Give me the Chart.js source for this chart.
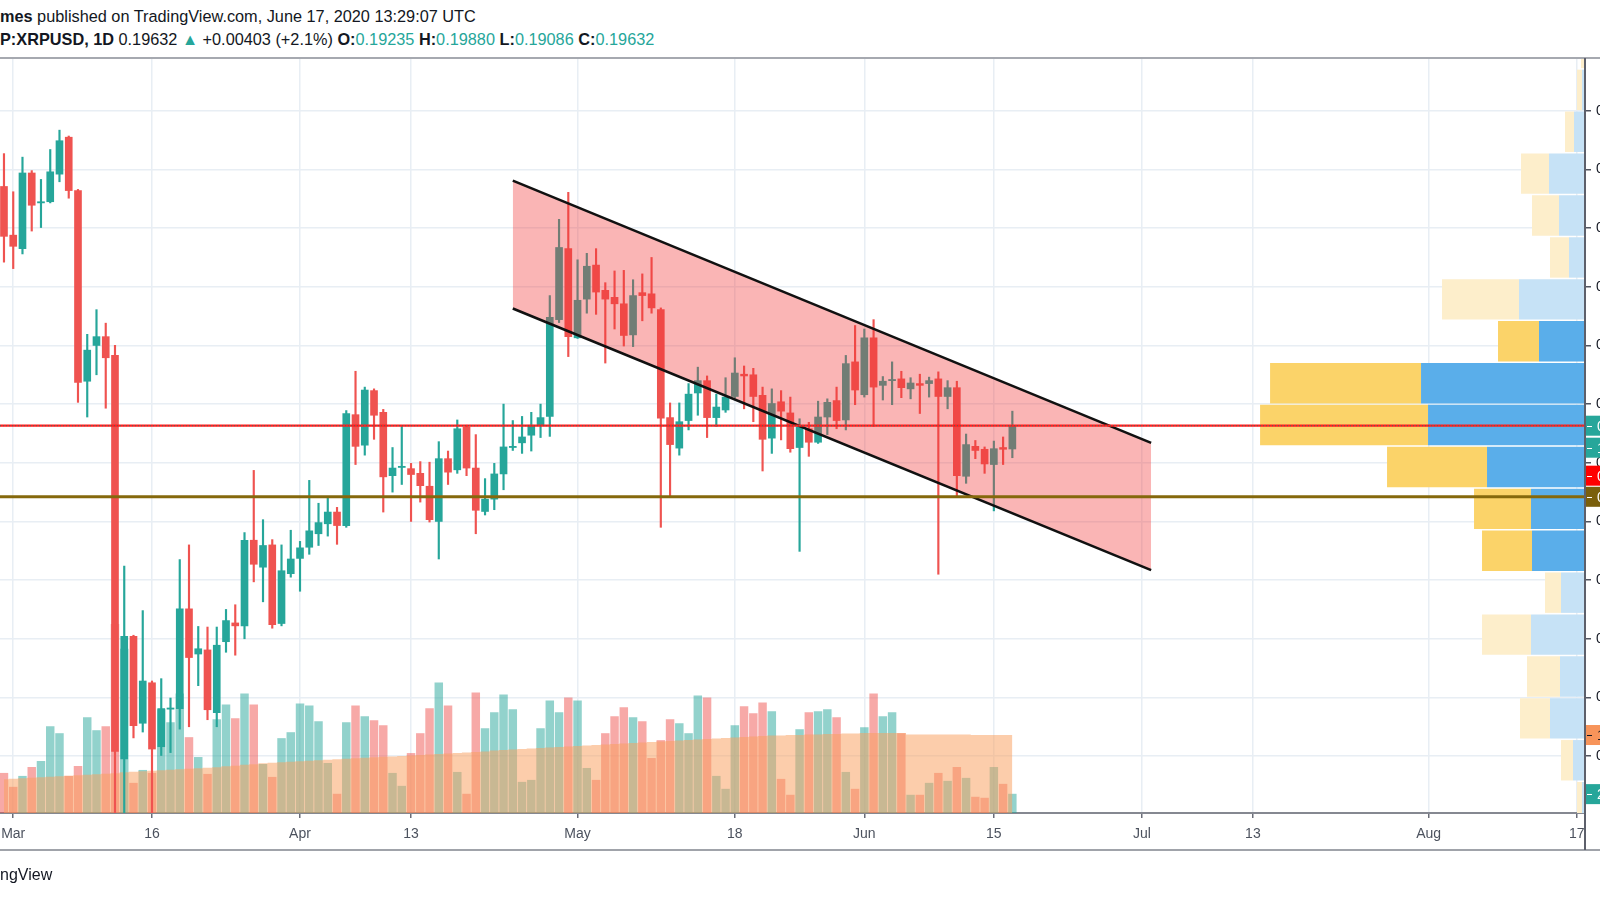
<!DOCTYPE html>
<html>
<head>
<meta charset="utf-8">
<script src="https://cdn.jsdelivr.net/npm/chart.js@4.4.1/dist/chart.umd.min.js"></script>
<style>
  html, body { margin: 0; padding: 0; width: 1600px; height: 900px; overflow: hidden; background: #fff; }
  body { position: relative; font-family: "Liberation Sans", Arial, sans-serif; color: #131722; }
  .hdr { position: absolute; left: 0; font-size: 16.3px; white-space: nowrap; }
  #hdr1 { top: 7px; }
  #hdr2 { top: 30px; }
  .g { color: #26a69a; }
  canvas { position: absolute; left: 0; top: 0; }
  #topline { position: absolute; left: 0; top: 57px; width: 1600px; height: 2px; background: #a6a9b0; }
  #botline { position: absolute; left: 0; top: 849px; width: 1600px; height: 2px; background: #a0a3aa; }
  #vline { position: absolute; left: 1584px; top: 58px; width: 2px; height: 792px; background: #5d606b; }
  #foot { position: absolute; left: 0; top: 866px; font-size: 16px; }
</style>
</head>
<body>
<div class="hdr" id="hdr1"><b>mes</b> published on TradingView.com, June 17, 2020 13:29:07 UTC</div>
<div class="hdr" id="hdr2"><b>P:XRPUSD, 1D</b> 0.19632 <span class="g">▲</span> +0.00403 (+2.1%) <b>O:</b><span class="g">0.19235</span> <b>H:</b><span class="g">0.19880</span> <b>L:</b><span class="g">0.19086</span> <b>C:</b><span class="g">0.19632</span></div>
<canvas id="main" width="1700" height="900"></canvas>
<canvas id="prof" width="1585" height="813"></canvas>
<div id="topline"></div>
<div id="botline"></div>
<div id="vline"></div>
<div id="foot">ngView</div>

<script>
// --- DADOS ---

// primeiro candle visível; os seguintes são diários
const firstDate = '2020-02-29';

const opens = [
  0.2371, 0.2288, 0.2265, 0.2394, 0.2343, 0.2345, 0.2392, 0.2455, 0.2364, 0.2039,
  0.2100, 0.2115, 0.2083, 0.1395, 0.1604, 0.1456, 0.1525, 0.1416, 0.1480, 0.1481,
  0.1651, 0.1574, 0.1581, 0.1474, 0.1595, 0.1627, 0.1622, 0.1768, 0.1722, 0.1760,
  0.1626, 0.1711, 0.1737, 0.1756, 0.1779, 0.1796, 0.1816, 0.1793, 0.1982, 0.1930,
  0.2023, 0.1986, 0.1878, 0.1892, 0.1890, 0.1882, 0.1860, 0.1800, 0.1907, 0.1888,
  0.1961, 0.1891, 0.1817, 0.1838, 0.1881, 0.1926, 0.1934, 0.1947, 0.1965, 0.1979,
  0.2144, 0.2265, 0.2113, 0.2179, 0.2237, 0.2194, 0.2182, 0.2171, 0.2118, 0.2190,
  0.2188, 0.2161, 0.1977, 0.1925, 0.1972, 0.2019, 0.2040, 0.1977, 0.1990, 0.2013,
  0.2051, 0.2050, 0.2015, 0.1942, 0.2004, 0.1985, 0.1926, 0.1958, 0.1935, 0.1978,
  0.2006, 0.1973, 0.2072, 0.2016, 0.2113, 0.2032, 0.2040, 0.2043, 0.2026, 0.2035,
  0.2035, 0.2043, 0.2013, 0.2028, 0.1877, 0.1928, 0.1923, 0.1897, 0.1926, 0.19235
];
const highs = [
  0.2427, 0.2362, 0.2421, 0.2398, 0.2383, 0.2434, 0.2467, 0.2457, 0.2366, 0.2119,
  0.2161, 0.2138, 0.2100, 0.1724, 0.1606, 0.1648, 0.1528, 0.1532, 0.1499, 0.1735,
  0.1760, 0.1621, 0.1620, 0.1620, 0.1650, 0.1658, 0.1781, 0.1887, 0.1803, 0.1769,
  0.1760, 0.1785, 0.1766, 0.1870, 0.1831, 0.1841, 0.1824, 0.1989, 0.2056, 0.2029,
  0.2026, 0.1991, 0.1926, 0.1962, 0.1899, 0.1902, 0.1901, 0.1936, 0.1920, 0.1973,
  0.1964, 0.1948, 0.1873, 0.1899, 0.2000, 0.1972, 0.1979, 0.1986, 0.2000, 0.2185,
  0.2315, 0.2361, 0.2246, 0.2257, 0.2265, 0.2207, 0.2227, 0.2228, 0.2212, 0.2222,
  0.2250, 0.2164, 0.2002, 0.2002, 0.2035, 0.2063, 0.2048, 0.2017, 0.2045, 0.2079,
  0.2065, 0.2061, 0.2029, 0.2026, 0.2023, 0.2012, 0.1975, 0.1969, 0.2005, 0.2009,
  0.2029, 0.2083, 0.2134, 0.2128, 0.2144, 0.2047, 0.2072, 0.2056, 0.2045, 0.2051,
  0.2046, 0.2055, 0.2040, 0.2039, 0.1949, 0.1938, 0.1927, 0.1937, 0.1944, 0.19880
];
const lows = [
  0.2242, 0.2231, 0.2256, 0.2295, 0.2301, 0.2343, 0.2379, 0.2351, 0.2003, 0.1978,
  0.2050, 0.1993, 0.1280, 0.1150, 0.1431, 0.1441, 0.1290, 0.1401, 0.1406, 0.1446,
  0.1450, 0.1520, 0.1462, 0.1450, 0.1577, 0.1572, 0.1600, 0.1697, 0.1663, 0.1618,
  0.1622, 0.1705, 0.1681, 0.1744, 0.1759, 0.1775, 0.1761, 0.1790, 0.1897, 0.1913,
  0.1940, 0.1816, 0.1850, 0.1863, 0.1800, 0.1833, 0.1799, 0.1736, 0.1863, 0.1882,
  0.1878, 0.1779, 0.1811, 0.1820, 0.1854, 0.1921, 0.1916, 0.1920, 0.1943, 0.1945,
  0.2139, 0.2081, 0.2112, 0.2155, 0.2153, 0.2070, 0.2128, 0.2099, 0.2098, 0.2142,
  0.2155, 0.1790, 0.1843, 0.1913, 0.1956, 0.1981, 0.1943, 0.1962, 0.1986, 0.2010,
  0.1992, 0.1970, 0.1886, 0.1916, 0.1939, 0.1918, 0.1749, 0.1911, 0.1933, 0.1948,
  0.1958, 0.1956, 0.1999, 0.2012, 0.1962, 0.2007, 0.1999, 0.2011, 0.2009, 0.1984,
  0.2012, 0.1710, 0.1992, 0.1841, 0.1865, 0.1907, 0.1882, 0.1818, 0.1897, 0.19086
];
const closes = [
  0.2286, 0.2269, 0.2394, 0.2339, 0.2345, 0.2396, 0.2449, 0.2364, 0.2037, 0.2092,
  0.2115, 0.2079, 0.1408, 0.1604, 0.1452, 0.1528, 0.1412, 0.1481, 0.1482, 0.1651,
  0.1568, 0.1583, 0.1479, 0.1589, 0.1631, 0.1622, 0.1768, 0.1727, 0.1759, 0.1624,
  0.1716, 0.1736, 0.1755, 0.1784, 0.1798, 0.1816, 0.1793, 0.1984, 0.1928, 0.2024,
  0.1981, 0.1876, 0.1891, 0.1894, 0.1880, 0.1861, 0.1803, 0.1907, 0.1884, 0.1958,
  0.1891, 0.1819, 0.1838, 0.1881, 0.1927, 0.1928, 0.1944, 0.1964, 0.1977, 0.2148,
  0.2267, 0.2115, 0.2177, 0.2235, 0.2191, 0.2179, 0.2171, 0.2117, 0.2185, 0.2185,
  0.2164, 0.1976, 0.1931, 0.1970, 0.2017, 0.2040, 0.1977, 0.1995, 0.2012, 0.2053,
  0.2048, 0.2013, 0.1940, 0.2001, 0.1988, 0.1924, 0.1961, 0.1935, 0.1978, 0.2003,
  0.1972, 0.2069, 0.2024, 0.2113, 0.2029, 0.2039, 0.2042, 0.2028, 0.2036, 0.2032,
  0.2040, 0.2013, 0.2028, 0.1878, 0.1931, 0.1921, 0.1898, 0.1924, 0.1923, 0.19632
];
// volume diário (milhões)
const volumes = [
   40,  26,  37,  46,  52,  87,  80,  37,  47,  96,
   83,  87, 190, 165,  30,  43,  40, 104,  91, 120,
   76,  56,  39,  94, 109,  95, 120, 109,  49,  36,
   75,  81, 110, 108,  92,  50,  19,  91, 108,  97,
   93,  88,  40,  27,  60,  80, 105, 131, 108,  41,
   19, 121,  85, 101, 119, 104,  31,  33,  85, 113,
  101, 116, 113,  45,  33,  80,  97, 106,  96,  92,
   55,  73,  94,  90,  80, 118, 116,  37,  24,  88,
  107, 100, 111, 102,  34,  18,  84, 101, 102, 104,
   96,  41,  24,  86, 120,  97, 101,  80,  18,  18,
   30,  40,  32,  46,  35,  16,  15,  46,  29,  19
];
// média móvel do volume (área laranja)
const volumeMA = [
  34, 34.5, 35, 35.5, 36, 36.5, 37, 37.5, 38, 38.5,
  39, 39.5, 40, 41, 41.5, 42, 42.5, 43, 43.5, 44,
  44.5, 45, 45.5, 46, 47, 47.5, 48.5, 49, 50, 50.5,
  51, 51.5, 52, 52.5, 53, 53.5, 54, 54.5, 55, 55.5,
  56, 56.5, 57, 57.5, 58, 58.5, 59, 59.5, 60, 60.5,
  61, 61.5, 62, 63, 63.5, 64, 64.5, 65, 65.5, 66,
  66.5, 67, 67.5, 68, 68.5, 69, 69.5, 70, 70.5, 71,
  71.5, 72, 72.5, 73, 73.5, 74, 74.5, 75, 75.5, 76,
  76.5, 77, 77.5, 78, 78, 78.5, 78.5, 79, 79, 79.5,
  79.5, 80, 80, 80.5, 80.5, 80.5, 80.5, 80.5, 79, 79,
  79, 79, 79, 79, 79, 78.5, 78.5, 78.5, 78.5, 78.5
];

// eixo de tempo
const tickDates = ['2020-03-01', '2020-03-16', '2020-04-01', '2020-04-13', '2020-05-01', '2020-05-18',
                   '2020-06-01', '2020-06-15', '2020-07-01', '2020-07-13', '2020-08-01', '2020-08-17'];
const tickLabels = ['Mar', '16', 'Apr', '13', 'May', '18', 'Jun', '15', 'Jul', '13', 'Aug', '17'];
const viewFrom = -1.43;   // dias a partir de 1 de março
const viewTo = 169.9;

// eixo de preço
const priceTicks = [0.14, 0.15, 0.16, 0.17, 0.18, 0.19, 0.20, 0.21, 0.22, 0.23, 0.24, 0.25];
const priceMin = 0.1303;
const priceMax = 0.2590;

// canal de baixa desenhado
const channelDates = ['2020-04-24', '2020-07-02'];
const channelUpper = [0.2381, 0.1934];
const channelLower = [0.2163, 0.1717];

// níveis horizontais
const supportLevel = 0.1842;
const redMarkLevel = 0.1878;

// perfil de volume (faixas de preço)
const profilePrices = [0.26071, 0.25357, 0.24643, 0.23929, 0.23214, 0.22500, 0.21786, 0.21071, 0.20357, 0.19643,
                       0.18929, 0.18214, 0.17500, 0.16786, 0.16071, 0.15357, 0.14643, 0.13929, 0.13214];
const profileUp   = [1, 3, 11, 36, 26, 16, 66, 46, 164, 157, 98, 54, 53, 24, 54, 25, 35, 12, 3];
const profileDown = [3, 5, 9, 28, 27, 19, 77, 41, 151, 168, 100, 57, 50, 16, 49, 33, 30, 12, 5];
const profileInValueArea = [0, 0, 0, 0, 0, 0, 0, 1, 1, 1, 1, 1, 1, 0, 0, 0, 0, 0, 0];
const profileShare = 0.205;  // largura da maior faixa / largura do gráfico

// --- PREPARO ---

const UP = '#26a69a';
const DOWN = '#ef5350';
const MAR1 = Date.UTC(2020, 2, 1);
const dayOf = s => (Date.parse(s) - MAR1) / 86400000;
const day0 = dayOf(firstDate);
const xs = closes.map((_, i) => day0 + i);
const isUp = closes.map((c, i) => c >= opens[i]);
const lastClose = closes[closes.length - 1];
const tickDays = tickDates.map(dayOf);

// --- GRÁFICO PRINCIPAL ---

const axisLabels = {
  id: 'axisLabels',
  afterDraw(chart) {
    const { ctx, chartArea, scales } = chart;
    const yp = scales.y, yv = scales.yv;
    const curY = yp.getPixelForValue(lastClose);
    const boxes = [
      { y: curY, bg: UP, text: lastClose.toFixed(5), fg: '#fff' },
      { y: curY + 22, bg: UP, text: '10:30:52', fg: '#fff' },
      { y: yp.getPixelForValue(redMarkLevel), bg: '#ff0000', text: redMarkLevel.toFixed(5), fg: '#fff' },
      { y: yp.getPixelForValue(supportLevel), bg: '#7a5f0c', text: supportLevel.toFixed(5), fg: '#fff' },
      { y: yv.getPixelForValue(volumeMA[volumeMA.length - 1]), bg: '#f7945a', text: '105.4M', fg: '#131722' },
      { y: yv.getPixelForValue(volumes[volumes.length - 1]), bg: UP, text: '25.47M', fg: '#fff' }
    ];
    ctx.save();
    ctx.font = '14px "Liberation Sans", Arial, sans-serif';
    ctx.textBaseline = 'middle';
    boxes.forEach(b => {
      ctx.fillStyle = b.bg;
      ctx.fillRect(chartArea.right + 1, b.y - 10, 120, 20);
      ctx.fillStyle = b.fg;
      ctx.fillRect(chartArea.right + 2, Math.round(b.y), 5, 1);
      ctx.fillText(b.text, chartArea.right + 12, b.y + 1);
    });
    ctx.restore();
  }
};

new Chart(document.getElementById('main'), {
  type: 'bar',
  data: {
    datasets: [
      {
        type: 'bar', label: 'Volume', yAxisID: 'yv',
        data: xs.map((x, i) => ({ x, y: volumes[i] })),
        backgroundColor: isUp.map(u => u ? 'rgba(38,166,154,0.5)' : 'rgba(239,83,80,0.5)'),
        barThickness: 7.8, grouped: false, clip: 0, order: 50
      },
      {
        type: 'line', label: 'Volume MA', yAxisID: 'yv',
        data: xs.map((x, i) => ({ x, y: volumeMA[i] })),
        stepped: 'middle', fill: 'origin', backgroundColor: 'rgba(250,160,96,0.53)',
        borderWidth: 0, pointRadius: 0, clip: 0, order: 40
      },
      {
        type: 'bar', label: 'Sombras',
        data: xs.map((x, i) => ({ x, y: [lows[i], highs[i]] })),
        backgroundColor: isUp.map(u => u ? UP : DOWN),
        barThickness: 1.5, grouped: false, clip: 0, order: 30
      },
      {
        type: 'bar', label: 'Corpos',
        data: xs.map((x, i) => ({ x, y: [opens[i], closes[i]] })),
        backgroundColor: isUp.map(u => u ? UP : DOWN),
        barThickness: 7, grouped: false, clip: 0, order: 20
      },
      {
        type: 'line', label: 'Canal topo',
        data: channelDates.map((d, i) => ({ x: dayOf(d), y: channelUpper[i] })),
        borderColor: '#111', borderWidth: 2.6, pointRadius: 0, fill: false, clip: 0, order: 9
      },
      {
        type: 'line', label: 'Canal base',
        data: channelDates.map((d, i) => ({ x: dayOf(d), y: channelLower[i] })),
        borderColor: '#111', borderWidth: 2.6, pointRadius: 0,
        fill: '-1', backgroundColor: 'rgba(242,54,54,0.37)', clip: 0, order: 10
      }
    ]
  },
  options: {
    responsive: false,
    animation: false,
    events: [],
    layout: { padding: { top: 58, bottom: 50, left: 0, right: 0 } },
    plugins: { legend: { display: false }, tooltip: { enabled: false } },
    scales: {
      x: {
        type: 'linear', position: 'bottom', min: viewFrom, max: viewTo, offset: false,
        afterBuildTicks: s => { s.ticks = tickDays.map(v => ({ value: v })); },
        afterFit: s => { s.height = 37; s.paddingLeft = 0; s.paddingRight = 0; },
        ticks: {
          autoSkip: false, maxRotation: 0, padding: 8,
          color: '#4c525e', font: { family: '"Liberation Sans", Arial, sans-serif', size: 14 },
          callback: v => tickLabels[tickDays.indexOf(v)]
        },
        grid: { offset: false, color: '#e8eef4', lineWidth: 1.5, tickLength: 5, tickColor: '#6a6d78' },
        border: { color: '#858891', width: 2 }
      },
      y: {
        type: 'linear', position: 'right', min: priceMin, max: priceMax,
        afterBuildTicks: s => { s.ticks = priceTicks.map(v => ({ value: v })); },
        afterFit: s => { s.width = 115; },
        ticks: {
          padding: 5, color: '#131722', font: { family: '"Liberation Sans", Arial, sans-serif', size: 14 },
          callback: v => v.toFixed(4)
        },
        grid: { color: '#e8eef4', lineWidth: 1.5, tickLength: 6, tickColor: '#50535e' },
        border: { display: false }
      },
      yv: { display: false, min: 0, max: Math.max(...volumes) * 4 }
    }
  },
  plugins: [axisLabels]
});

// --- PERFIL DE VOLUME + LINHAS HORIZONTAIS (sobreposto) ---

const levelLines = {
  id: 'levelLines',
  afterDatasetsDraw(chart) {
    const { ctx, chartArea, scales } = chart;
    const yRed = scales.y.getPixelForValue(lastClose);
    const ySup = scales.y.getPixelForValue(supportLevel);
    ctx.save();
    ctx.beginPath();
    ctx.moveTo(chartArea.left, ySup); ctx.lineTo(chartArea.right, ySup);
    ctx.strokeStyle = '#85680c'; ctx.lineWidth = 3; ctx.stroke();
    ctx.beginPath();
    ctx.moveTo(chartArea.left, yRed); ctx.lineTo(chartArea.right, yRed);
    ctx.strokeStyle = '#ff1f1f'; ctx.lineWidth = 2.2; ctx.stroke();
    ctx.setLineDash([1, 2]);
    ctx.strokeStyle = 'rgba(38,120,110,0.8)'; ctx.lineWidth = 1; ctx.stroke();
    ctx.restore();
  }
};

const maxRow = Math.max(...profileUp.map((u, i) => u + profileDown[i]));

new Chart(document.getElementById('prof'), {
  type: 'bar',
  data: {
    datasets: [
      {
        label: 'Volume comprador', stack: 'vp',
        data: profilePrices.map((p, i) => ({ y: p, x: profileUp[i] })),
        backgroundColor: profileInValueArea.map(v => v ? '#5aaeea' : '#c6e2f6')
      },
      {
        label: 'Volume vendedor', stack: 'vp',
        data: profilePrices.map((p, i) => ({ y: p, x: profileDown[i] })),
        backgroundColor: profileInValueArea.map(v => v ? '#fbd369' : '#fdeecb')
      }
    ]
  },
  options: {
    indexAxis: 'y',
    responsive: false,
    animation: false,
    events: [],
    layout: { padding: { top: 58 } },
    datasets: { bar: { barPercentage: 0.965, categoryPercentage: 1, clip: 0 } },
    plugins: { legend: { display: false }, tooltip: { enabled: false } },
    scales: {
      y: { type: 'linear', display: false, offset: false, min: priceMin, max: priceMax },
      x: { type: 'linear', display: false, reverse: true, stacked: true, min: 0, max: maxRow / profileShare }
    }
  },
  plugins: [levelLines]
});
</script>
</body>
</html>
